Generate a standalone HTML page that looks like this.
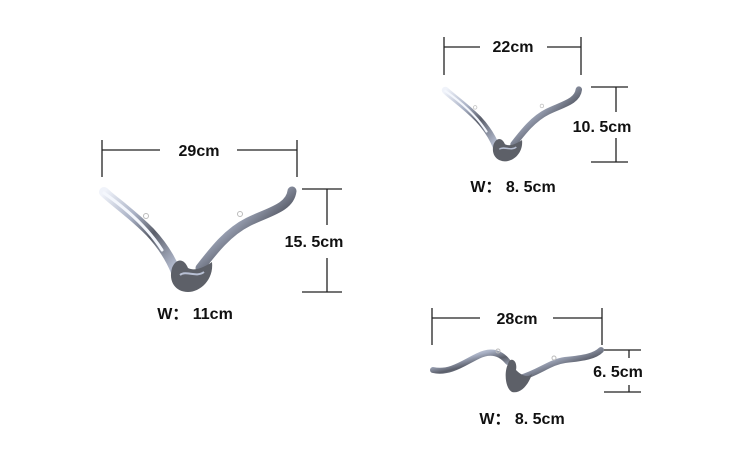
<!DOCTYPE html>
<html><head><meta charset="utf-8"><style>
html,body{margin:0;padding:0;background:#fff;}
svg{display:block}
text{font-family:"Liberation Sans",sans-serif;fill:#111;}
</style></head><body>
<svg width="750" height="469" viewBox="0 0 750 469">
<defs>
<linearGradient id="g" x1="0" y1="0" x2="1" y2="1">
<stop offset="0" stop-color="#f0f3fa"/><stop offset="0.35" stop-color="#a8b0c4"/><stop offset="0.6" stop-color="#5a5e6a"/><stop offset="1" stop-color="#c0c8dc"/></linearGradient>
<g id="bird">
<path d="M104,192 C112,200 130,212 150,232 C165,248 172,262 176,272" stroke="url(#g)" stroke-width="10" fill="none" stroke-linecap="round"/>
<path d="M104,193 C128,210 148,228 162,250" stroke="#f4f7fd" stroke-width="3" fill="none" stroke-linecap="round"/>
<path d="M292,191 C290,208 268,212 248,222 C228,232 214,250 200,268" stroke="url(#g)" stroke-width="9" fill="none" stroke-linecap="round"/>
<path d="M172,268 C176,258 184,258 188,268 C196,272 206,266 212,262 C214,280 200,292 188,292 C176,292 168,282 172,268 Z" fill="#5d6068"/>
<path d="M180,275 C186,270 196,278 204,272" stroke="#b8c0d4" stroke-width="2" fill="none"/>
<circle cx="146" cy="216" r="2.5" fill="none" stroke="#bbb" stroke-width="1"/>
<circle cx="240" cy="214" r="2.5" fill="none" stroke="#bbb" stroke-width="1"/>
</g>
</defs>
<g stroke="#222" stroke-width="1.3" fill="none">
<line x1="102" y1="140" x2="102" y2="177"/><line x1="297" y1="140" x2="297" y2="177"/>
<line x1="102" y1="150" x2="160" y2="150"/><line x1="237" y1="150" x2="297" y2="150"/>
<line x1="302" y1="189" x2="342" y2="189"/><line x1="302" y1="292" x2="342" y2="292"/>
<line x1="327" y1="189" x2="327" y2="225"/><line x1="327" y1="258" x2="327" y2="292"/>
<line x1="444" y1="37" x2="444" y2="75"/><line x1="581" y1="37" x2="581" y2="75"/>
<line x1="444" y1="47" x2="480" y2="47"/><line x1="547" y1="47" x2="581" y2="47"/>
<line x1="591" y1="87" x2="628" y2="87"/><line x1="591" y1="162" x2="628" y2="162"/>
<line x1="616" y1="87" x2="616" y2="112"/><line x1="616" y1="138" x2="616" y2="162"/>
<line x1="432" y1="308" x2="432" y2="345"/><line x1="602" y1="308" x2="602" y2="345"/>
<line x1="432" y1="318" x2="480" y2="318"/><line x1="553" y1="318" x2="602" y2="318"/>
<line x1="604" y1="350" x2="641" y2="350"/><line x1="604" y1="392" x2="641" y2="392"/>
<line x1="629" y1="350" x2="629" y2="358"/><line x1="629" y1="385" x2="629" y2="392"/>
</g>
<use href="#bird"/>
<use href="#bird" transform="translate(371.5,-46) scale(0.71)"/>
<path d="M433,370 C450,374 465,362 478,356 C490,350 500,352 508,362" stroke="url(#g)" stroke-width="6" fill="none" stroke-linecap="round"/>
<path d="M520,378 C540,372 550,362 565,360 C585,358 595,356 601,350" stroke="url(#g)" stroke-width="6" fill="none" stroke-linecap="round"/>
<path d="M508,364 C510,356 518,360 516,370 C522,376 528,378 532,374 C528,386 520,394 512,392 C505,388 504,372 508,364 Z" fill="#5d6068"/>
<circle cx="498" cy="351" r="2" fill="none" stroke="#bbb" stroke-width="1"/>
<circle cx="554" cy="358" r="2" fill="none" stroke="#bbb" stroke-width="1"/>
<g font-size="16" font-weight="bold">
<text x="199" y="156" text-anchor="middle">29cm</text>
<text x="314" y="247" text-anchor="middle">15. 5cm</text>
<text x="195" y="319" text-anchor="middle">W： 11cm</text>
<text x="513" y="52" text-anchor="middle">22cm</text>
<text x="602" y="132" text-anchor="middle">10. 5cm</text>
<text x="513" y="192" text-anchor="middle">W： 8. 5cm</text>
<text x="517" y="324" text-anchor="middle">28cm</text>
<text x="618" y="377" text-anchor="middle">6. 5cm</text>
<text x="522" y="424" text-anchor="middle">W： 8. 5cm</text>
</g>
</svg>
</body></html>
